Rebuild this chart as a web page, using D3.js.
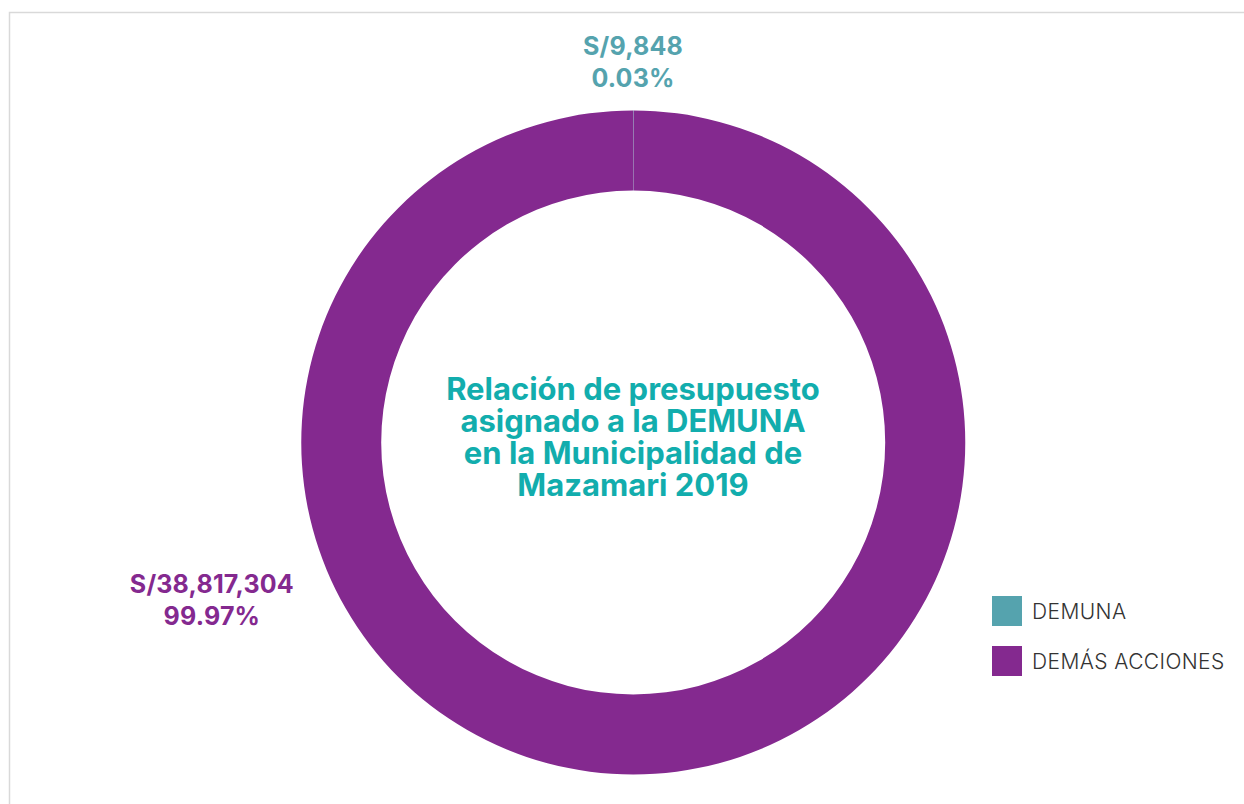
<!DOCTYPE html>
<html>
<head>
<meta charset="utf-8">
<script src="https://cdn.jsdelivr.net/npm/d3@7"></script>
<style>
  html, body { margin: 0; padding: 0; background: #fff; }
  svg { display: block; }
</style>
</head>
<body>
<div id="chart"></div>
<script>
// data
const categories = ["DEMUNA", "DEMÁS ACCIONES"];
const amounts = [9848, 38817304];
const amountLabels = ["S/9,848", "S/38,817,304"];
const percentLabels = ["0.03%", "99.97%"];
const colors = ["#55A3AE", "#84298F"];
const titleLines = ["Relación de presupuesto", "asignado a la DEMUNA", "en la Municipalidad de", "Mazamari 2019"];

const W = 1244, H = 804;
const cx = 633, cy = 442.5;
const outerR = 332, innerR = 252;

const svg = d3.select("#chart").append("svg")
    .attr("width", W)
    .attr("height", H);

// frame of the card
svg.append("rect")
    .attr("x", 9.5).attr("y", 12.5)
    .attr("width", W + 20).attr("height", H + 20)
    .attr("fill", "none")
    .attr("stroke", "#d9d9d9")
    .attr("stroke-width", 1.5);

const data = categories.map((c, i) => ({name: c, value: amounts[i], amount: amountLabels[i], pct: percentLabels[i], color: colors[i]}));

const pie = d3.pie().sort(null).value(d => d.value);
const arc = d3.arc().innerRadius(innerR).outerRadius(outerR);

const g = svg.append("g").attr("transform", `translate(${cx},${cy})`);

const arcs = pie(data);
g.selectAll("path.slice")
    .data(arcs)
    .enter()
    .append("path")
    .attr("class", "slice")
    .attr("d", arc)
    .attr("fill", d => d.data.color);

// labels outside the ring
const labelPos = [
    {angle: 0, r: 383},
    {angle: 249.7 * Math.PI / 180, r: 449}
];
const labels = g.selectAll("g.lbl")
    .data(arcs)
    .enter()
    .append("g")
    .attr("class", "lbl")
    .attr("transform", (d, i) => {
        const p = labelPos[i];
        return `translate(${p.r * Math.sin(p.angle)},${-p.r * Math.cos(p.angle)})`;
    });
labels.append("text")
    .attr("text-anchor", "middle")
    .attr("y", -5)
    .style("font-family", "Inter, sans-serif")
    .style("font-weight", "bold")
    .style("font-size", "25px")
    .style("letter-spacing", "0.2px")
    .attr("fill", d => d.data.color)
    .text(d => d.data.amount);
labels.append("text")
    .attr("text-anchor", "middle")
    .attr("y", 27)
    .style("font-family", "Inter, sans-serif")
    .style("font-weight", "bold")
    .style("font-size", "25px")
    .style("letter-spacing", "0.2px")
    .attr("fill", d => d.data.color)
    .text(d => d.data.pct);

// title in the hole
const title = g.append("text")
    .attr("text-anchor", "middle")
    .style("font-family", "Inter, sans-serif")
    .style("font-weight", "bold")
    .style("font-size", "31px")
    .attr("fill", "#12ADAD");
titleLines.forEach((t, i) => {
    title.append("tspan")
        .attr("x", 0)
        .attr("y", -43 + i * 32.3)
        .text(t);
});

// legend
const legend = svg.append("g").attr("transform", "translate(992,596)");
const item = legend.selectAll("g")
    .data(data)
    .enter()
    .append("g")
    .attr("transform", (d, i) => `translate(0,${i * 50})`);
item.append("rect")
    .attr("width", 30).attr("height", 30)
    .attr("fill", d => d.color);
item.append("text")
    .attr("x", 40).attr("y", 23)
    .style("font-family", "Inter, sans-serif")
    .style("font-weight", "300")
    .style("font-size", "21px")
    .style("letter-spacing", "0.4px")
    .attr("fill", "#333")
    .text(d => d.name);
</script>
</body>
</html>
